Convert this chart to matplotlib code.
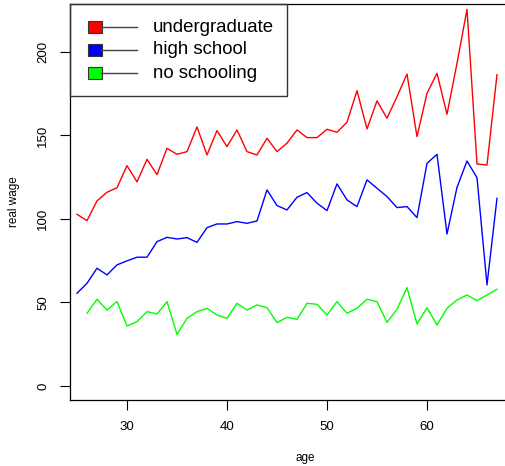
import numpy as np
import matplotlib.pyplot as plt
from matplotlib.patches import Rectangle
from matplotlib.lines import Line2D

plt.rcParams['font.family'] = ['Liberation Sans', 'DejaVu Sans']

# data
age = np.arange(25, 68)
undergrad = [102.8, 99.0, 110.8, 116.0, 118.7, 131.9, 122.2, 135.7, 126.5, 142.3,
             138.7, 140.3, 155.1, 138.3, 152.9, 143.3, 153.3, 140.3, 138.3, 148.3,
             140.3, 145.4, 153.3, 148.7, 148.7, 153.7, 151.9, 157.9, 176.8, 153.9,
             170.7, 160.3, 173.2, 186.8, 149.3, 175.2, 187.2, 162.7, 193.2, 225.5,
             132.9, 132.3, 186.4]
high_school = [55.5, 61.5, 70.5, 66.5, 72.5, 74.9, 77.1, 77.1, 86.4, 89.0,
               88.0, 88.8, 86.0, 94.8, 97.0, 97.0, 98.4, 97.4, 98.8, 117.4,
               108.0, 105.4, 113.0, 115.8, 109.4, 105.0, 121.0, 111.4, 107.4, 123.4,
               118.4, 113.4, 106.8, 107.4, 100.8, 133.3, 138.7, 91.0, 118.9, 134.7,
               124.7, 60.5, 112.4]
# no schooling starts at age 26
age_ns = np.arange(26, 68)
no_school = [43.5, 51.9, 45.5, 50.5, 35.9, 38.5, 44.5, 43.1, 50.5, 30.9,
             40.5, 44.5, 46.5, 42.5, 40.5, 49.5, 45.5, 48.5, 46.9, 37.9,
             41.1, 39.9, 49.5, 48.9, 42.5, 50.5, 43.5, 46.5, 51.9, 50.5,
             38.1, 45.9, 58.9, 37.1, 46.9, 36.5, 46.5, 51.5, 54.5, 51.1,
             54.5, 57.9]

labels = ['undergraduate', 'high school', 'no schooling']
colors = ['#ff0000', '#0000ff', '#00ff00']

W, H = 506, 466
fig = plt.figure(figsize=(W / 100, H / 100), dpi=100)
# plot region: left 70px, top 4px, bottom 400px, right runs past the edge
ax = fig.add_axes([70 / W, 66 / H, 470 / W, 396 / H])

ax.plot(age, undergrad, color=colors[0], lw=1)
ax.plot(age, high_school, color=colors[1], lw=1)
ax.plot(age_ns, no_school, color=colors[2], lw=1)

ax.set_xlim(24.3, 71.3)
ax.set_ylim(-8.4, 228.7)
ax.set_xticks([30, 40, 50, 60])
ax.set_yticks([0, 50, 100, 150, 200])
ax.tick_params(direction='out', length=7, width=0.8, labelsize=9.5, pad=8)
for t in ax.get_yticklabels():
    t.set_rotation(90)
    t.set_va('center')
ax.set_xlabel('age', fontsize=8.5, labelpad=14)
ax.set_ylabel('real wage', fontsize=8.5, labelpad=12)
for s in ax.spines.values():
    s.set_linewidth(0.9)

# legend box drawn in figure pixels
def fx(x):
    return x / W

def fy(y):
    return 1 - y / H

fig.patches.append(Rectangle((fx(70), fy(96)), fx(287) - fx(70), fy(4) - fy(96),
                             transform=fig.transFigure, fill=False,
                             edgecolor='#333333', lw=1))
rows = [27, 50, 73]
for yy, lab, c in zip(rows, labels, colors):
    fig.lines.append(Line2D([fx(101), fx(137)], [fy(yy), fy(yy)],
                            transform=fig.transFigure, color='#444444', lw=1))
    fig.patches.append(Rectangle((fx(88), fy(yy + 6)), fx(14), fy(0) - fy(12),
                                 transform=fig.transFigure, facecolor=c,
                                 edgecolor='#333333', lw=0.8))
    fig.text(fx(153), fy(yy), lab, fontsize=13.4, va='center', ha='left')

fig.savefig('out.png', dpi=100)
